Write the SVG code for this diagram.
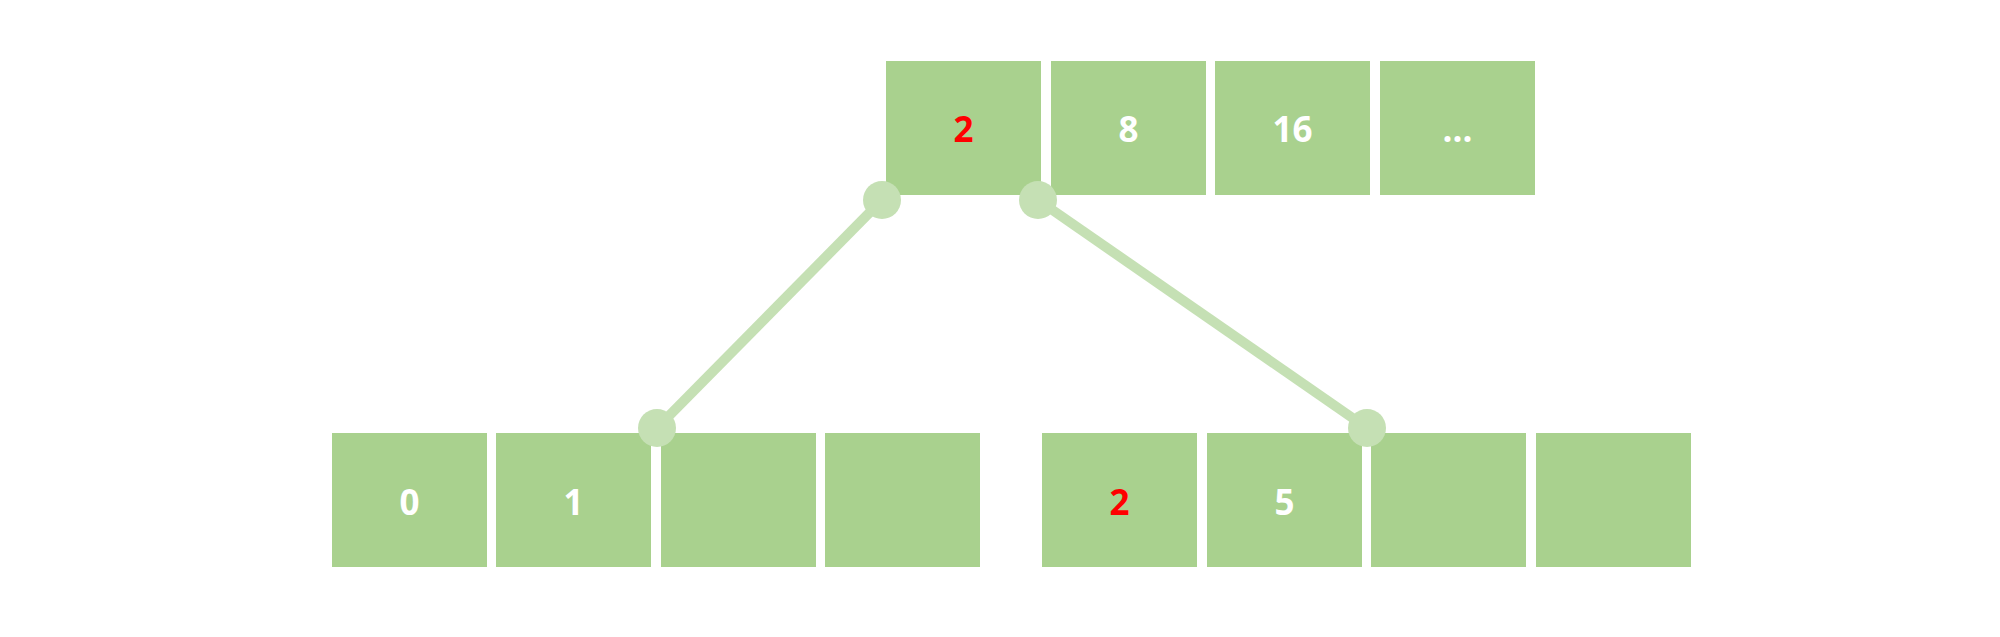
<svg xmlns="http://www.w3.org/2000/svg" width="2000" height="637" viewBox="0 0 2000 637">
<style>
.box{fill:#a9d18e}
.t{font-family:"Open Sans","Noto Sans",sans-serif;font-weight:700;font-size:35px;fill:#ffffff;text-anchor:middle}
.red{fill:#ff0000}
.conn{stroke:#c5e0b4;stroke-width:10;fill:none}
.dot{fill:#c5e0b4}
</style>
<rect width="2000" height="637" fill="#ffffff"/>
<g id="top-0"><rect class="box" x="886" y="61" width="155" height="134"/><text class="t red" x="963.5" y="142">2</text></g>
<g id="top-1"><rect class="box" x="1051" y="61" width="155" height="134"/><text class="t" x="1128.5" y="142">8</text></g>
<g id="top-2"><rect class="box" x="1215" y="61" width="155" height="134"/><text class="t" x="1292.5" y="142">16</text></g>
<g id="top-3"><rect class="box" x="1380" y="61" width="155" height="134"/><text class="t" x="1457.5" y="142">...</text></g>
<g id="bl-0"><rect class="box" x="332" y="433" width="155" height="134"/><text class="t" x="409.5" y="515">0</text></g>
<g id="bl-1"><rect class="box" x="496" y="433" width="155" height="134"/><text class="t" x="573.5" y="515">1</text></g>
<g id="bl-2"><rect class="box" x="661" y="433" width="155" height="134"/></g>
<g id="bl-3"><rect class="box" x="825" y="433" width="155" height="134"/></g>
<g id="br-0"><rect class="box" x="1042" y="433" width="155" height="134"/><text class="t red" x="1119.5" y="515">2</text></g>
<g id="br-1"><rect class="box" x="1207" y="433" width="155" height="134"/><text class="t" x="1284.5" y="515">5</text></g>
<g id="br-2"><rect class="box" x="1371" y="433" width="155" height="134"/></g>
<g id="br-3"><rect class="box" x="1536" y="433" width="155" height="134"/></g>
<g id="connectors">
<line class="conn" x1="882" y1="200" x2="657" y2="428"/>
<line class="conn" x1="1038" y1="200" x2="1367" y2="428"/>
<circle class="dot" cx="882" cy="200" r="19"/>
<circle class="dot" cx="1038" cy="200" r="19"/>
<circle class="dot" cx="657" cy="428" r="19"/>
<circle class="dot" cx="1367" cy="428" r="19"/>
</g>
</svg>
